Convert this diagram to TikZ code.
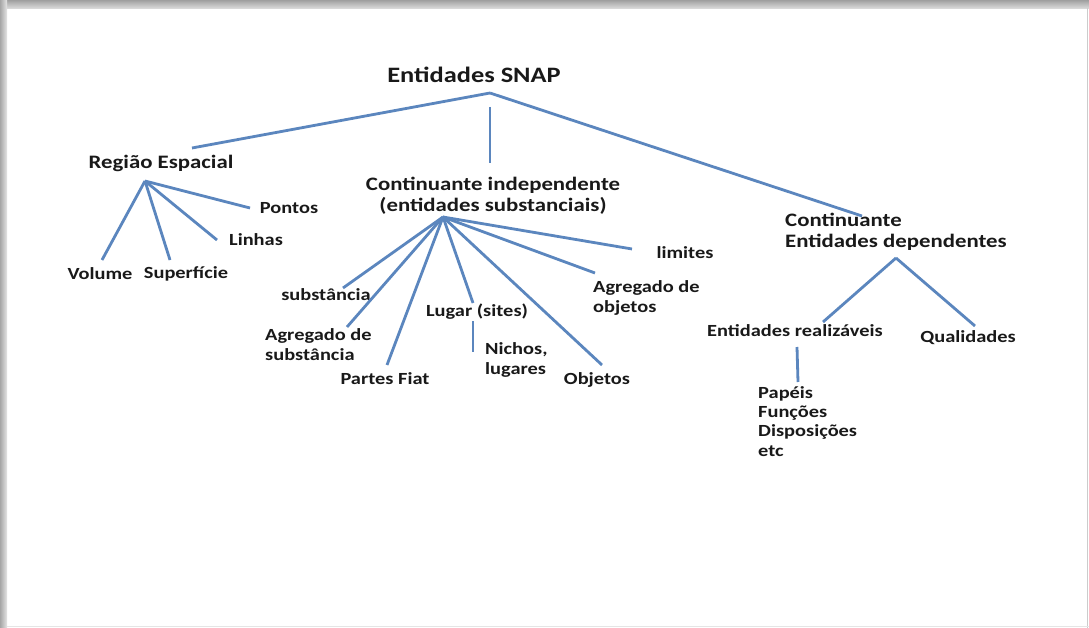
\documentclass[tikz,border=0pt]{standalone}
\usepackage{fontspec}
\setmainfont{Carlito}[FakeStretch=1.2]
\begin{document}
\begin{tikzpicture}[x=1pt,y=-1pt,
  lbl/.style={font=\bfseries\fontsize{17}{20}\selectfont, inner sep=0pt, text=black!90},
  lbll/.style={lbl, align=left},
  big/.style={font=\bfseries\fontsize{19}{21.5}\selectfont},
  conn/.style={draw=lineblue, line width=2.8pt},
]
\definecolor{lineblue}{HTML}{5B86BE}
\useasboundingbox (0,0) rectangle (1089,628);
\fill[white] (0,0) rectangle (1089,628);
\shade[top color=gray!75, bottom color=gray!25] (0,0) rectangle (1089,9);
\shade[left color=gray!70, right color=gray!20] (0,0) rectangle (7,628);
\draw[gray!40, line width=1pt] (1087.5,8) -- (1087.5,628);
\draw[gray!20, line width=1pt] (7,626.5) -- (1089,626.5);

% text nodes
\node[lbl, font=\bfseries\fontsize{22}{24}\selectfont] (snap) at (474,75) {Entidades SNAP};
\node[lbl, big] (reg) at (161,163) {Região Espacial};
\node[lbl] (pon) at (289,208) {Pontos};
\node[lbl] (lin) at (256,240) {Linhas};
\node[lbl] (vol) at (100,274) {Volume};
\node[lbl] (sup) at (186,274) {Superfície};
\node[lbl, big, align=center] (ci) at (493,196) {Continuante independente\\(entidades substanciais)};
\node[lbl] (sub) at (326,295) {substância};
\node[lbll, anchor=west] (ags) at (265,345) {Agregado de\\substância};
\node[lbl] (pf) at (385,379) {Partes Fiat};
\node[lbl] (lug) at (477,312) {Lugar (sites)};
\node[lbll, anchor=west] (nic) at (485,360) {Nichos,\\lugares};
\node[lbl] (obj) at (597,380) {Objetos};
\node[lbll, anchor=west] (ago) at (593,298) {Agregado de\\objetos};
\node[lbl] (lim) at (685,253) {limites};
\node[lbl, big, align=left, anchor=west] (cd) at (785,232) {Continuante\\Entidades dependentes};
\node[lbl] (er) at (795,331) {Entidades realizáveis};
\node[lbl] (qua) at (968,338) {Qualidades};
\node[lbll, anchor=north west, font=\bfseries\fontsize{17}{19.3}\selectfont] (pap) at (758,386) {Papéis\\Funções\\Disposições\\etc};

% connector end points
\coordinate (hroot) at (490,93);
\coordinate (hrootv) at (490,107);
\coordinate (ereg) at (192,148);
\coordinate (eci) at (490,163);
\coordinate (ecd) at (862,216);
\coordinate (hreg) at (145,181);
\coordinate (evol) at (102,260);
\coordinate (esup) at (170,260);
\coordinate (elin) at (217,240);
\coordinate (epon) at (250,208);
\coordinate (hci) at (443,217);
\coordinate (esub) at (343,288);
\coordinate (eags) at (347,327);
\coordinate (epf) at (387,365);
\coordinate (elug) at (473,303);
\coordinate (eobj) at (602,365);
\coordinate (eago) at (595,273);
\coordinate (elim) at (632,249);
\coordinate (slug) at (473,321);
\coordinate (enic) at (473,352);
\coordinate (hcd) at (896,258);
\coordinate (eer) at (823,322);
\coordinate (equa) at (975,326);
\coordinate (ser) at (797,347);
\coordinate (epap) at (798,382);

% connectors
\draw[conn] (hroot) -- (ereg);
\draw[conn] (hrootv) -- (eci);
\draw[conn] (hroot) -- (ecd);
\foreach \e in {evol,esup,elin,epon} \draw[conn] (hreg) -- (\e);
\foreach \e in {esub,eags,epf,elug,eobj,eago,elim} \draw[conn] (hci) -- (\e);
\draw[conn] (slug) -- (enic);
\draw[conn] (hcd) -- (eer);
\draw[conn] (hcd) -- (equa);
\draw[conn] (ser) -- (epap);
\end{tikzpicture}
\end{document}
